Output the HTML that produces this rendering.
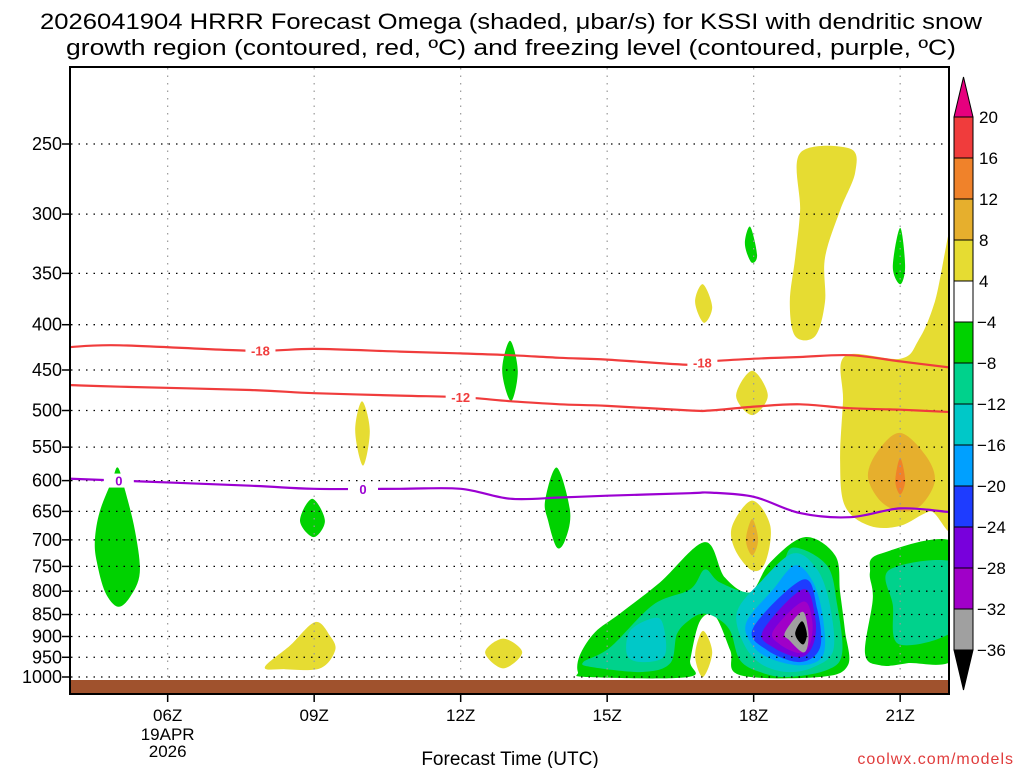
<!DOCTYPE html>
<html><head><meta charset="utf-8">
<style>
html,body{margin:0;padding:0;background:#fff;}
svg{display:block;font-family:"Liberation Sans",sans-serif;}
</style></head>
<body>
<svg id="chart" width="1024" height="768" viewBox="0 0 1024 768" xmlns="http://www.w3.org/2000/svg">
<text x="511" y="29" font-size="22" text-anchor="middle" textLength="942" lengthAdjust="spacingAndGlyphs">2026041904 HRRR Forecast Omega (shaded, μbar/s) for KSSI with dendritic snow</text>
<text x="511" y="55" font-size="22" text-anchor="middle" textLength="890" lengthAdjust="spacingAndGlyphs">growth region (contoured, red, ºC) and freezing level (contoured, purple, ºC)</text>
<g id="shades"></g>
<g id="grid"></g>
<g id="lines"></g>
<rect x="71" y="680" width="877" height="14" fill="#a0522d"/>
<rect x="70" y="67" width="879" height="627" fill="none" stroke="#000" stroke-width="2"/>
<g id="axes"></g>
<g id="cbar"></g>
<text x="510" y="765" font-size="19" text-anchor="middle">Forecast Time (UTC)</text>
<text x="1014" y="764" font-size="16" fill="#e03c3c" text-anchor="end" letter-spacing="1">coolwx.com/models</text>
</svg>
<script>
const pressureTicks=[250,300,350,400,450,500,550,600,650,700,750,800,850,900,950,1000];
const hourTicks=[6,9,12,15,18,21];
const hourLabels=["06Z","09Z","12Z","15Z","18Z","21Z"];
const levelLabels=["20","16","12","8","4","−4","−8","−12","−16","−20","−24","−28","−32","−36"];
const levelColors=["#f03c3c","#f0822a","#e6af2d","#e6dc32","#ffffff","#00d200","#00d28c","#00c8c8","#00a0ff","#1e3cff","#7800dc","#a000c8","#a0a0a0"];
// contour polygons: [hour, hPa] pairs, with shade level index
const blobGreenMain=[[14.40,987],[14.44,945],[14.75,890],[15.26,848],[16.08,782],[17.0,704],[17.41,772],[17.93,802],[18.34,742],[19.05,695],[19.67,729],[19.77,802],[19.87,887],[19.93,970],[19.36,1000],[17.72,995],[17.52,933],[17.21,854],[16.9,865],[16.7,957],[16.66,1000],[14.6,1000]];
const blobTealMain=[[14.51,962],[15.06,926],[15.94,829],[16.7,796],[17.0,756],[17.31,782],[17.99,802],[18.54,756],[18.81,714],[19.5,748],[19.71,829],[19.81,940],[19.5,982],[18.68,1000],[18.13,987],[17.72,957],[17.52,887],[17.25,858],[16.96,848],[16.7,861],[16.43,894],[16.29,965],[15.73,987],[14.71,975]];
const blobCyanLeft=[[15.41,945],[15.47,887],[15.94,858],[16.14,871],[16.18,945],[15.73,962]];
const blobCyanRight=[[17.66,844],[18.13,782],[18.81,725],[19.3,756],[19.56,829],[19.63,933],[19.22,975],[18.68,987],[18.13,965],[17.78,913]];
const blobLtBlue=[[17.86,865],[18.4,796],[18.85,748],[19.22,782],[19.42,858],[19.42,945],[18.95,970],[18.28,950],[17.93,913]];
const blobBlue=[[17.99,880],[19.01,776],[19.3,838],[19.36,926],[18.95,962],[18.28,933]];
const blobPurple=[[18.19,887],[19.01,796],[19.26,858],[19.22,919],[18.95,950],[18.4,926]];
const blobMagenta=[[18.4,887],[19.01,822],[19.2,865],[19.15,919],[18.95,940],[18.54,919]];
const blobGray=[[18.64,891],[18.99,844],[19.11,880],[19.11,919],[19.01,938],[18.74,910]];
const blobBlack=[[18.85,894],[18.99,865],[19.09,894],[19.01,919]];
const blobGreenRight=[[20.59,726],[22.2,710],[22.2,940],[21.14,965],[20.59,970],[20.28,940],[20.44,816],[20.38,762]];
const blobTealRight=[[20.79,756],[22.2,746],[22.2,876],[20.99,919],[20.85,829]];
const blobGreen5Z=[[4.98,580],[5.13,616],[5.33,683],[5.43,762],[5.23,812],[4.98,833],[4.72,802],[4.55,742],[4.51,700],[4.61,650],[4.86,600]];
const blobGreen9Z=[[8.96,629],[9.22,666],[8.99,695],[8.71,666]];
const blobYellow10Z=[[9.98,488],[10.14,527],[10.0,577],[9.84,527]];
const blobGreen13Z=[[13.01,417],[13.17,451],[13.03,488],[12.85,451]];
const blobYellow9Z=[[7.99,975],[8.51,921],[9.02,867],[9.32,898],[9.43,933],[9.12,978],[8.4,980]];
const blobYellow13Z=[[12.87,905],[13.26,938],[12.87,978],[12.5,938]];
const blobGreen14Z=[[13.97,580],[14.24,650],[14.14,700],[13.97,714],[13.79,666],[13.73,632]];
const blobYellow17Za=[[16.96,360],[17.15,382],[16.98,398],[16.8,377]];
const blobGreen18Z=[[17.93,310],[18.07,334],[17.95,340],[17.82,324]];
const blobYellow18Za=[[17.97,451],[18.29,481],[17.97,506],[17.64,481]];
const blobYellow18Zb=[[17.97,632],[18.34,675],[18.24,742],[17.97,758],[17.62,718],[17.56,675]];
const blobOrange18Z=[[17.97,663],[18.09,700],[17.97,729],[17.84,700]];
const blobYellow17Zb=[[16.96,887],[17.15,938],[16.96,1000],[16.8,945]];
const blobYellowTop=[[18.95,256],[19.97,253],[20.08,269],[19.77,297],[19.46,336],[19.46,377],[19.26,412],[18.85,412],[18.74,377],[18.85,336],[18.95,297]];
const blobGreen21Z=[[21.0,311],[21.1,344],[21.0,360],[20.85,344]];
const blobYellowRight=[[19.87,434],[21.0,437],[21.37,417],[21.71,377],[22.2,300],[22.2,650],[21.61,650],[21.0,675],[20.38,675],[19.87,641],[19.77,569],[19.83,488]];
const blobOrangeRight=[[21.0,530],[21.51,561],[21.71,600],[21.41,641],[21.0,650],[20.59,632],[20.34,593],[20.55,555]];
const blobRedRight=[[21.0,566],[21.1,600],[21.0,622],[20.9,600]];
const blobs=[
 [blobGreenMain,5],[blobTealMain,6],[blobCyanLeft,7],[blobCyanRight,7],[blobLtBlue,8],[blobBlue,9],[blobPurple,10],[blobMagenta,11],[blobGray,12],[blobBlack,13],
 [blobGreenRight,5],[blobTealRight,6],[blobGreen5Z,5],[blobGreen9Z,5],[blobYellow10Z,3],[blobGreen13Z,5],[blobYellow9Z,3],[blobYellow13Z,3],[blobGreen14Z,5],
 [blobYellow17Za,3],[blobGreen18Z,5],[blobYellow18Za,3],[blobYellow18Zb,3],[blobOrange18Z,2],[blobYellow17Zb,3],[blobYellowTop,3],[blobGreen21Z,5],
 [blobYellowRight,3],[blobOrangeRight,2],[blobRedRight,1]];
const lineHours=[4,5.02,7.69,9,10.76,12,13.01,14.03,15,16.7,17.11,18.01,18.95,19.97,21,22];
const minus18=[424,422,428,426,429,431,433,436,438,444,440,437,435,433,440,447];
const minus12=[468,470,474,478,481,483,488,492,494,500,500,495,492,497,499,502];
const zeroLine=[597,600,608,613,613,613,629,627,624,620,619,626,653,660,645,651];

const NS="http://www.w3.org/2000/svg";
const X0=70,X1=949,H0=4,H1=22,Y0=144,Y1=677;
function xs(h){return X0+(h-H0)/(H1-H0)*(X1-X0);}
function ys(p){return Y0+(Math.log(p)-Math.log(250))/(Math.log(1000)-Math.log(250))*(Y1-Y0);}
function mk(tag,attrs,parent){const e=document.createElementNS(NS,tag);for(const k in attrs)e.setAttribute(k,attrs[k]);parent.appendChild(e);return e;}
function smooth(pts,closed){
  const n=pts.length;let d="M"+pts[0][0].toFixed(1)+","+pts[0][1].toFixed(1);
  const get=i=>closed?pts[(i+n)%n]:pts[Math.max(0,Math.min(n-1,i))];
  const segs=closed?n:n-1;
  for(let i=0;i<segs;i++){
    const p0=get(i-1),p1=get(i),p2=get(i+1),p3=get(i+2);
    const c1=[p1[0]+(p2[0]-p0[0])/6,p1[1]+(p2[1]-p0[1])/6],c2=[p2[0]-(p3[0]-p1[0])/6,p2[1]-(p3[1]-p1[1])/6];
    d+="C"+c1[0].toFixed(1)+","+c1[1].toFixed(1)+" "+c2[0].toFixed(1)+","+c2[1].toFixed(1)+" "+p2[0].toFixed(1)+","+p2[1].toFixed(1);
  }
  return d+(closed?"Z":"");
}
const svg=document.getElementById("chart");
const defs=mk("defs",{},svg);
const cp=mk("clipPath",{id:"plotclip"},defs);
mk("rect",{x:71,y:68,width:877,height:625},cp);
const shades=document.getElementById("shades");
shades.setAttribute("clip-path","url(#plotclip)");
blobs.forEach((b,i)=>{
  const pts=b[0].map(q=>[xs(q[0]),ys(q[1])]);
  const el=mk("path",{d:smooth(pts,true),fill:b[1]===13?"#000":levelColors[b[1]]},shades);
  
  
});
const grid=document.getElementById("grid");
pressureTicks.forEach(p=>{
  const g=mk("line",{x1:71,x2:948,y1:ys(p),y2:ys(p),stroke:"#000","stroke-width":1.3,"stroke-dasharray":"1.5 6"},grid);
  
  
});
hourTicks.forEach(h=>{
  const g=mk("line",{x1:xs(h),x2:xs(h),y1:68,y2:680,stroke:"#999","stroke-width":1.2,"stroke-dasharray":"1.5 6"},grid);
  
  
});
const lines=document.getElementById("lines");
lines.setAttribute("clip-path","url(#plotclip)");
function drawLine(vals,color,name,labels){
  const pts=lineHours.map((h,i)=>[xs(h),ys(vals[i])]);
  const el=mk("path",{d:smooth(pts,false),fill:"none",stroke:color,"stroke-width":2.2},lines);
  
  
  labels.forEach(l=>{
    const h=l[0];let i=0;while(i<lineHours.length-2&&lineHours[i+1]<h)i++;
    const t=(h-lineHours[i])/(lineHours[i+1]-lineHours[i]);
    const p=vals[i]+(vals[i+1]-vals[i])*t;
    mk("rect",{x:xs(h)-15,y:ys(p)-7,width:30,height:14,fill:"#fff"},lines);
    const tx=mk("text",{x:xs(h),y:ys(p)+5,"font-size":13,"font-weight":"bold",fill:color,"text-anchor":"middle"},lines);
    tx.textContent=l[1];
    
    
  });
}
drawLine(minus18,"#f03c3c","contour-minus-18",[[7.9,"-18"],[16.95,"-18"]]);
drawLine(minus12,"#f03c3c","contour-minus-12",[[12,"-12"]]);
drawLine(zeroLine,"#9b00d2","freezing-level-contour",[[5,"0"],[10,"0"]]);
const axes=document.getElementById("axes");
pressureTicks.forEach(p=>{
  const t=mk("text",{x:62,y:ys(p)+6,"font-size":18,"text-anchor":"end"},axes);
  t.textContent=p;
  
  
  mk("line",{x1:62,x2:70,y1:ys(p),y2:ys(p),stroke:"#000","stroke-width":1.5},axes);
});
hourTicks.forEach((h,i)=>{
  mk("line",{x1:xs(h),x2:xs(h),y1:694,y2:702,stroke:"#000","stroke-width":1.5},axes);
  const t=mk("text",{x:xs(h),y:721,"font-size":17,"text-anchor":"middle"},axes);
  t.textContent=hourLabels[i];
  
  
});
[["19APR",740],["2026",757]].forEach(s=>{
  const t=mk("text",{x:xs(6),y:s[1],"font-size":17,"text-anchor":"middle"},axes);
  t.textContent=s[0];
  
  
});
const cb=document.getElementById("cbar");
const cbx=954,cbw=19,cbt=117,cbh=41;
mk("polygon",{points:`${cbx},${cbt} ${cbx+cbw},${cbt} ${cbx+cbw/2},77`,fill:"#e6007e",stroke:"#000","stroke-width":1},cb);
levelColors.forEach((c,i)=>{
  const r=mk("rect",{x:cbx,y:cbt+i*cbh,width:cbw,height:cbh,fill:c,stroke:"#000","stroke-width":1},cb);
  
  
});
const bb=cbt+levelColors.length*cbh;
mk("polygon",{points:`${cbx},${bb} ${cbx+cbw},${bb} ${cbx+cbw/2},${bb+40}`,fill:"#000",stroke:"#000","stroke-width":1},cb);
levelLabels.forEach((l,i)=>{
  const t=mk("text",{x:l.startsWith("−")?977:979,y:cbt+i*cbh+6,"font-size":17},cb);
  t.textContent=l;
  
  
});
</script>
</body></html>
